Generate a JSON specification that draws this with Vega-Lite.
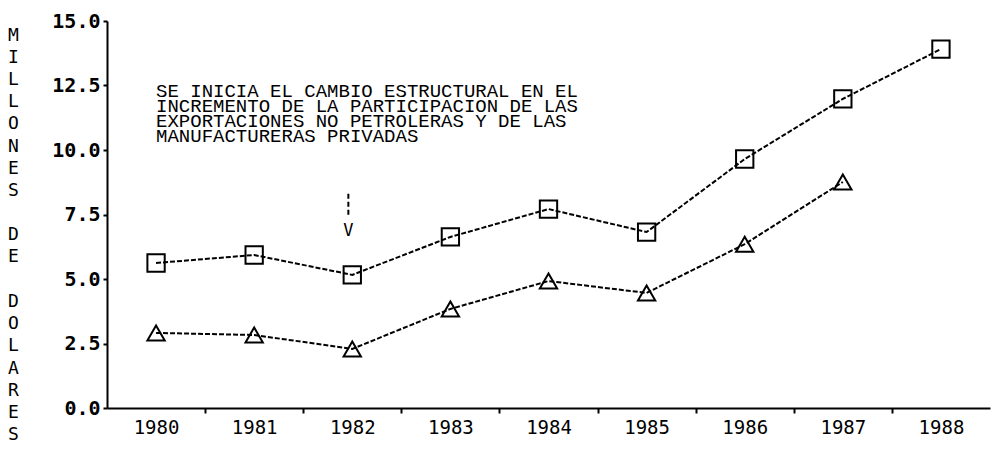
{
  "$schema": "https://vega.github.io/schema/vega-lite/v6.json",
  "width": 883,
  "height": 387,
  "autosize": {"type": "none"},
  "padding": {"left": 107, "top": 21, "right": 3, "bottom": 42},
  "background": "white",
  "config": {"view": {"stroke": null}},
  "layer": [
    {
      "data": {"values": [
        {"year": 1980, "serie": "A", "value": 5.62},
        {"year": 1981, "serie": "A", "value": 5.93},
        {"year": 1982, "serie": "A", "value": 5.16},
        {"year": 1983, "serie": "A", "value": 6.63},
        {"year": 1984, "serie": "A", "value": 7.71},
        {"year": 1985, "serie": "A", "value": 6.82},
        {"year": 1986, "serie": "A", "value": 9.65},
        {"year": 1987, "serie": "A", "value": 11.98},
        {"year": 1988, "serie": "A", "value": 13.91},
        {"year": 1980, "serie": "B", "value": 2.91},
        {"year": 1981, "serie": "B", "value": 2.83},
        {"year": 1982, "serie": "B", "value": 2.29},
        {"year": 1983, "serie": "B", "value": 3.84},
        {"year": 1984, "serie": "B", "value": 4.92},
        {"year": 1985, "serie": "B", "value": 4.46},
        {"year": 1986, "serie": "B", "value": 6.35},
        {"year": 1987, "serie": "B", "value": 8.76}
      ]},
      "encoding": {
        "x": {
          "field": "year", "type": "quantitative",
          "scale": {"domain": [1979.5, 1988.5], "nice": false, "zero": false},
          "axis": {
            "title": null,
            "values": [1980, 1980.5, 1981, 1981.5, 1982, 1982.5, 1983, 1983.5, 1984, 1984.5, 1985, 1985.5, 1986, 1986.5, 1987, 1987.5, 1988],
            "labelExpr": "datum.value % 1 === 0 ? '' + datum.value : ''",
            "tickOpacity": {"condition": {"test": "datum.value % 1 === 0", "value": 0}, "value": 1},
            "tickSize": 5, "tickWidth": 2, "tickColor": "black",
            "domainColor": "black", "domainWidth": 2,
            "grid": false,
            "labelFont": "DejaVu Sans Mono", "labelFontSize": 19, "labelColor": "black",
            "labelPadding": 5, "labelFlush": false
          }
        },
        "y": {
          "field": "value", "type": "quantitative",
          "scale": {"domain": [0, 15], "nice": false},
          "axis": {
            "title": ["M","I","L","L","O","N","E","S","\u2800","D","E","\u2800","D","O","L","A","R","E","S"],
            "titleAngle": 0, "titleX": -94, "titleY": 5,
            "titleAlign": "center", "titleBaseline": "top",
            "titleFont": "DejaVu Sans Mono", "titleFontSize": 18, "titleFontWeight": "normal",
            "titleLineHeight": 22.2, "titleColor": "black",
            "values": [0, 2.5, 5, 7.5, 10, 12.5, 15],
            "format": ".1f",
            "tickSize": 4, "tickWidth": 2, "tickColor": "black",
            "domainColor": "black", "domainWidth": 2,
            "grid": false,
            "labelFont": "DejaVu Sans Mono", "labelFontSize": 20, "labelFontWeight": "bold",
            "labelColor": "black", "labelPadding": 3
          }
        }
      },
      "layer": [
        {
          "mark": {"type": "line", "color": "black", "strokeWidth": 2, "strokeDash": [5, 2]},
          "encoding": {"detail": {"field": "serie"}}
        },
        {
          "mark": {"type": "point", "filled": false, "color": "black", "strokeWidth": 2, "opacity": 1},
          "encoding": {
            "shape": {"field": "serie", "type": "nominal", "scale": {"domain": ["A", "B"], "range": ["square", "triangle-up"]}, "legend": null},
            "size": {"value": 300}
          }
        }
      ]
    },
    {
      "data": {"values": [{"x": 1980, "y": 12.05, "label": ["SE INICIA EL CAMBIO ESTRUCTURAL EN EL", "INCREMENTO DE LA PARTICIPACION DE LAS", "EXPORTACIONES NO PETROLERAS Y DE LAS", "MANUFACTURERAS PRIVADAS"]}]},
      "mark": {"type": "text", "align": "left", "baseline": "alphabetic", "font": "Liberation Mono", "fontSize": 19, "lineHeight": 15, "color": "black"},
      "encoding": {
        "x": {"field": "x", "type": "quantitative"},
        "y": {"field": "y", "type": "quantitative"},
        "text": {"field": "label"}
      }
    },
    {
      "data": {"values": [{"x": 1981.96, "y": 8.3, "y2": 7.45}]},
      "mark": {"type": "rule", "color": "black", "strokeWidth": 2, "strokeDash": [5, 3]},
      "encoding": {
        "x": {"field": "x", "type": "quantitative"},
        "y": {"field": "y", "type": "quantitative"},
        "y2": {"field": "y2"}
      }
    },
    {
      "data": {"values": [{"x": 1981.96, "y": 6.65, "label": "V"}]},
      "mark": {"type": "text", "align": "center", "baseline": "alphabetic", "font": "DejaVu Sans Mono", "fontSize": 17, "color": "black"},
      "encoding": {
        "x": {"field": "x", "type": "quantitative"},
        "y": {"field": "y", "type": "quantitative"},
        "text": {"field": "label"}
      }
    }
  ]
}
